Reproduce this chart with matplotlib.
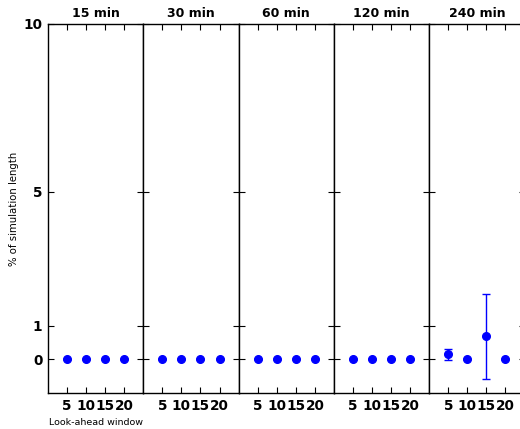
import matplotlib
matplotlib.use("Agg")
import matplotlib.pyplot as plt

# look-ahead windows and the time-step panels
windows = [5, 10, 15, 20]
panels = ["15 min", "30 min", "60 min", "120 min", "240 min"]

# % of simulation length (mean) and error per panel
means = [
    [0, 0, 0, 0],
    [0, 0, 0, 0],
    [0, 0, 0, 0],
    [0, 0, 0, 0],
    [0.15, 0, 0.69, 0],
]
errors = [
    [0, 0, 0, 0],
    [0, 0, 0, 0],
    [0, 0, 0, 0],
    [0, 0, 0, 0],
    [0.17, 0, 1.27, 0],
]
y_ticks = [0, 1, 5, 10]

W, H = 520, 429
fig = plt.figure(figsize=(W / 100, H / 100), dpi=100)

left_px, top_px, bottom_px = 48, 24, 393
panel_w = 95.3

for i, name in enumerate(panels):
    ax = fig.add_axes([
        (left_px + i * panel_w) / W,
        (H - bottom_px) / H,
        panel_w / W,
        (bottom_px - top_px) / H,
    ])
    ax.errorbar(windows, means[i], yerr=errors[i], fmt="o", color="blue",
                markersize=5.5, markeredgecolor="blue", elinewidth=1,
                capsize=3, capthick=1, ecolor="blue")
    ax.set_xlim(0, 25)
    ax.set_ylim(-1, 10)
    ax.set_xticks(windows)
    ax.set_yticks(y_ticks)
    ax.tick_params(direction="in", length=4, width=0.8, top=True, right=True,
                   labelsize=9.8, pad=4)
    for lab in ax.get_xticklabels() + ax.get_yticklabels():
        lab.set_fontweight("bold")
    if i > 0:
        ax.set_yticklabels([])
    ax.set_title(name, fontsize=9, fontweight="bold", pad=5)
    for sp in ax.spines.values():
        sp.set_linewidth(1.0)
    if i == 0:
        ax.set_ylabel("% of simulation length", fontsize=7.3, labelpad=3)
        ax.set_xlabel("Look-ahead window", fontsize=6.8, labelpad=4)

fig.savefig("out.png", dpi=100)
